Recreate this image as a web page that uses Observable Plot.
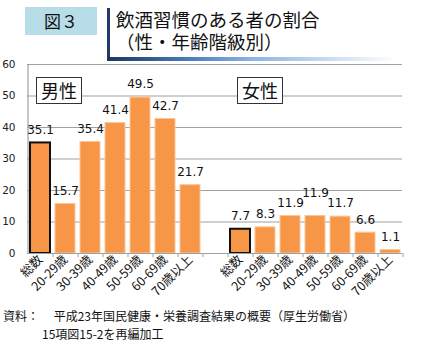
<!DOCTYPE html>
<html><head><meta charset="utf-8">
<script src="https://cdn.jsdelivr.net/npm/d3@7"></script>
<script src="https://cdn.jsdelivr.net/npm/@observablehq/plot@0.6"></script>
<style>
html,body{margin:0;padding:0;background:#fff;}
#wrap{position:relative;width:425px;height:353px;overflow:hidden;font-family:"Noto Sans CJK JP","DejaVu Sans",sans-serif;}
#chart{position:absolute;left:0;top:0;}
.fig{position:absolute;left:25px;top:7px;width:72px;height:28px;background:#B7DDE8;font-size:17px;line-height:28px;text-align:center;color:#111;}
.vbar{position:absolute;left:107px;top:8px;width:3px;height:53px;background:#1F3A6B;}
.ubar{position:absolute;left:107px;top:57px;width:290px;height:4px;background:linear-gradient(to right,#17375E 0%,#4F81BD 30%,#8DB4E2 50%,#C6D9F1 75%,#ffffff 100%);}
.title{position:absolute;left:116px;top:10px;font-family:"Liberation Sans","Noto Sans CJK JP",sans-serif;font-size:18.5px;line-height:22px;color:#111;white-space:nowrap;}
.gbox{position:absolute;top:77px;width:44px;height:25px;border:1px solid #333;background:#fff;font-size:18px;line-height:25px;text-align:center;color:#111;}
.src{position:absolute;font-size:12px;color:#111;white-space:nowrap;}
</style></head>
<body>
<div id="wrap">
<div id="chart"></div>
<div class="fig">図３</div>
<div class="vbar"></div>
<div class="ubar"></div>
<div class="title">飲酒習慣のある者の割合<br>（性・年齢階級別）</div>
<div class="gbox" style="left:36px">男性</div>
<div class="gbox" style="left:237px">女性</div>
<div class="src" style="left:3px;top:307px">資料：　 平成23年国民健康・栄養調査結果の概要（厚生労働省）</div>
<div class="src" style="left:42px;top:325px">15項図15-2を再編加工</div>
</div>
<script>
const ageGroups = ["総数","20-29歳","30-39歳","40-49歳","50-59歳","60-69歳","70歳以上"];
const maleValues = [35.1,15.7,35.4,41.4,49.5,42.7,21.7];
const femaleValues = [7.7,8.3,11.9,11.9,11.7,6.6,1.1];
const yTicks = [0,10,20,30,40,50,60];

const rows = [];
ageGroups.forEach((g,i)=>rows.push({key:"男|"+g, age:g, sex:"男", value:maleValues[i]}));
ageGroups.forEach((g,i)=>rows.push({key:"女|"+g, age:g, sex:"女", value:femaleValues[i]}));
const domain = [...ageGroups.map(g=>"男|"+g), "gap", ...ageGroups.map(g=>"女|"+g)];
const isRaised = d => d.sex==="女" && d.age==="40-49歳";

const plot = Plot.plot({
  width: 425, height: 305,
  marginLeft: 27, marginRight: 23, marginTop: 64, marginBottom: 52,
  style: {fontFamily: '"DejaVu Sans", sans-serif', background: "transparent"},
  x: {domain, paddingInner: 0.2, paddingOuter: 0.1, label: null},
  y: {domain: [0,60], label: null},
  marks: [
    Plot.ruleY(yTicks.filter(t=>t>0), {stroke:"#A0A0A0", strokeWidth:1.2}),
    Plot.ruleX([0], {x: ()=>domain[0], dx:-12.5, y1:0, y2:60, stroke:"#A0A0A0", strokeWidth:1.2}),
    Plot.barY(rows, {x:"key", y:"value", fill:"#F79646", stroke: d=>d.age==="総数" ? "#111" : "#FBC59A", strokeWidth: d=>d.age==="総数" ? 2 : 1}),
    Plot.ruleX(domain.slice(1), {x: d=>d, dx:-12.5, y1:0, y2:-1.3, stroke:"#A0A0A0"}),
    Plot.ruleX([domain[14]], {x: d=>d, dx:12.5, y1:0, y2:-1.3, stroke:"#A0A0A0"}),
    Plot.ruleY([0], {stroke:"#A0A0A0", strokeWidth:1.2}),
    Plot.text(rows.filter(d=>!isRaised(d)), {x:"key", y:"value", text:d=>d.value.toFixed(1), dy:-13, fontSize:12, fill:"#111"}),
    Plot.text(rows.filter(isRaised), {x:"key", y:"value", text:d=>d.value.toFixed(1), dy:-23, fontSize:12, fill:"#111"}),
    Plot.axisY({ticks: yTicks, tickSize:0, tickPadding:12, fontSize:10.5, fill:"#222"}),
    Plot.axisX({tickSize:0, tickRotate:-45, tickPadding:4, fontSize:12.5, fill:"#111",
      fontFamily:'"Noto Sans CJK JP", sans-serif',
      tickFormat: k => k==="gap" ? "" : k.split("|")[1]})
  ]
});
document.getElementById("chart").appendChild(plot);
</script>
</body></html>
